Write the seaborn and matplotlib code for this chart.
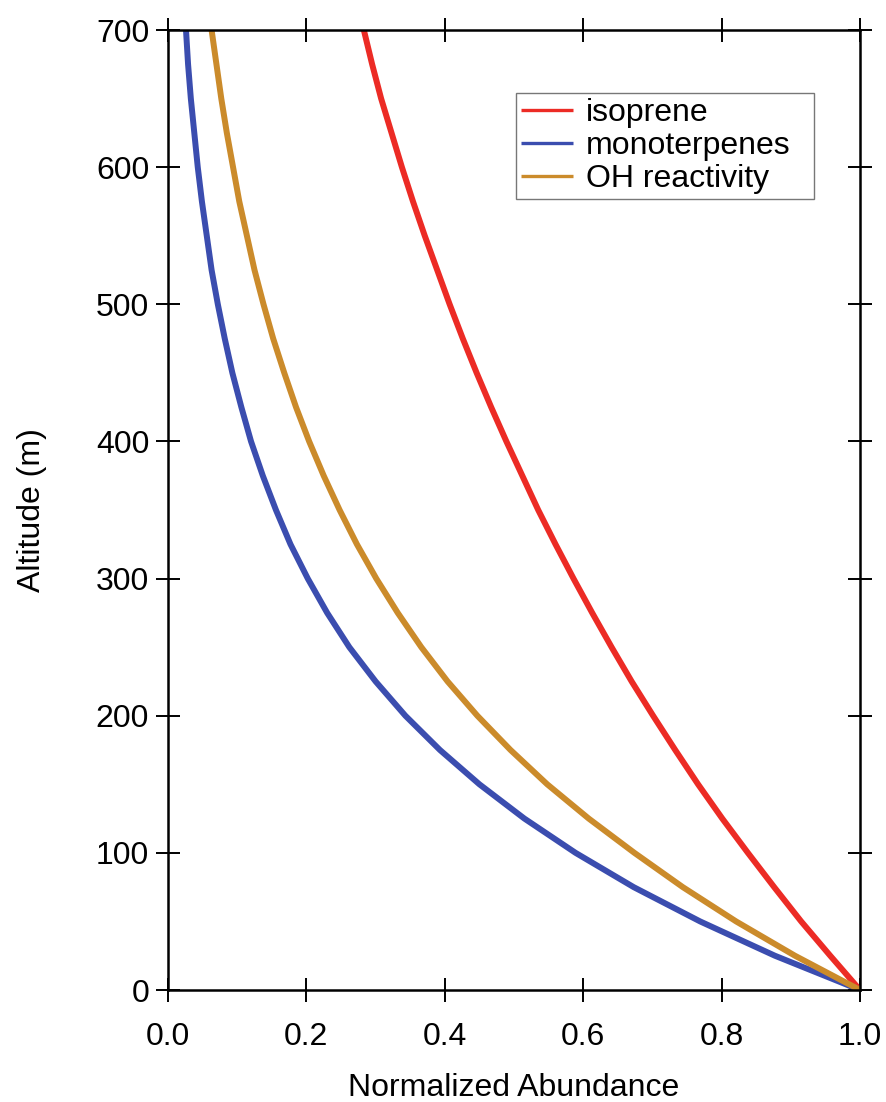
import matplotlib
matplotlib.use("Agg")
import matplotlib.pyplot as plt
import seaborn as sns
import pandas as pd

# ---- data ----
altitude = [0, 25, 50, 75, 100, 125, 150, 175, 200, 225, 250, 275, 300, 325, 350,
            375, 400, 425, 450, 475, 500, 525, 550, 575, 600, 625, 650, 675, 700]
isoprene = [1.000, 0.957, 0.915, 0.876, 0.838, 0.801, 0.766, 0.733, 0.701, 0.670,
            0.641, 0.613, 0.586, 0.560, 0.535, 0.512, 0.489, 0.467, 0.446, 0.426,
            0.407, 0.389, 0.371, 0.354, 0.338, 0.323, 0.308, 0.295, 0.283]
monoterpenes = [1.000, 0.877, 0.769, 0.673, 0.589, 0.515, 0.450, 0.393, 0.343, 0.300,
                0.262, 0.230, 0.202, 0.177, 0.156, 0.137, 0.120, 0.106, 0.093, 0.082,
                0.072, 0.063, 0.056, 0.049, 0.043, 0.038, 0.033, 0.029, 0.026]
oh_reactivity = [1.000, 0.906, 0.821, 0.744, 0.674, 0.608, 0.548, 0.495, 0.447, 0.404,
                 0.366, 0.332, 0.301, 0.273, 0.248, 0.225, 0.204, 0.185, 0.168, 0.152,
                 0.138, 0.125, 0.114, 0.103, 0.094, 0.085, 0.077, 0.070, 0.063]
series_names = ["isoprene", "monoterpenes", "OH reactivity"]
colors = ["#EC2B25", "#3B4DAF", "#CB8B2B"]
x_ticks = [0.0, 0.2, 0.4, 0.6, 0.8, 1.0]
y_ticks = [0, 100, 200, 300, 400, 500, 600, 700]

frames = []
for name, vals in zip(series_names, [isoprene, monoterpenes, oh_reactivity]):
    frames.append(pd.DataFrame({"Altitude": altitude, "Abundance": vals, "Species": name}))
df = pd.concat(frames, ignore_index=True)

sns.set_style("white")
plt.rcParams["font.family"] = ["Liberation Sans", "DejaVu Sans"]
plt.rcParams["text.color"] = "black"
plt.rcParams["axes.labelcolor"] = "black"

fig = plt.figure(figsize=(8.87, 11.02), dpi=100)
ax = fig.add_axes([168 / 887, 112 / 1102, 692 / 887, 960 / 1102])

sns.lineplot(data=df, x="Abundance", y="Altitude", hue="Species", hue_order=series_names,
             palette=colors, orient="y", sort=False, linewidth=4.3, ax=ax,
             solid_capstyle="butt", solid_joinstyle="round", estimator=None)

ax.set_xlim(0, 1)
ax.set_ylim(0, 700)
ax.set_xticks(x_ticks)
ax.set_xticklabels([f"{t:.1f}" for t in x_ticks])
ax.set_yticks(y_ticks)
ax.set_yticklabels([str(t) for t in y_ticks])

for sp in ax.spines.values():
    sp.set_visible(True)
    sp.set_color("black")
    sp.set_linewidth(1.8)

ax.tick_params(axis="both", which="major", direction="inout", length=17, width=1.4,
               color="black", bottom=True, left=True, top=True, right=True,
               labelbottom=True, labelleft=True, labeltop=False, labelright=False,
               labelsize=23, labelcolor="black")
ax.tick_params(axis="x", pad=14.5)
ax.tick_params(axis="y", pad=5)

ax.set_xlabel("Normalized Abundance", fontsize=23, color="black")
ax.set_ylabel("Altitude (m)", fontsize=23, color="black")
ax.xaxis.set_label_coords(0.5, -0.086)
ax.yaxis.set_label_coords(-0.175, 0.5)

handles, labels = ax.get_legend_handles_labels()
leg = ax.legend(handles, labels, loc="upper left",
                bbox_to_anchor=(348 / 692, 0.5, 298 / 692, 0.434), mode="expand",
                fontsize=23, frameon=True, fancybox=False, borderpad=0.15,
                labelspacing=0.09, handlelength=1.62, handletextpad=0.42,
                borderaxespad=0)
leg.get_frame().set_edgecolor("#555555")
leg.get_frame().set_linewidth(1.0)
for ln in leg.get_lines():
    ln.set_linewidth(2.4)
for t in leg.get_texts():
    t.set_color("black")

fig.savefig("out.png", dpi=100)
